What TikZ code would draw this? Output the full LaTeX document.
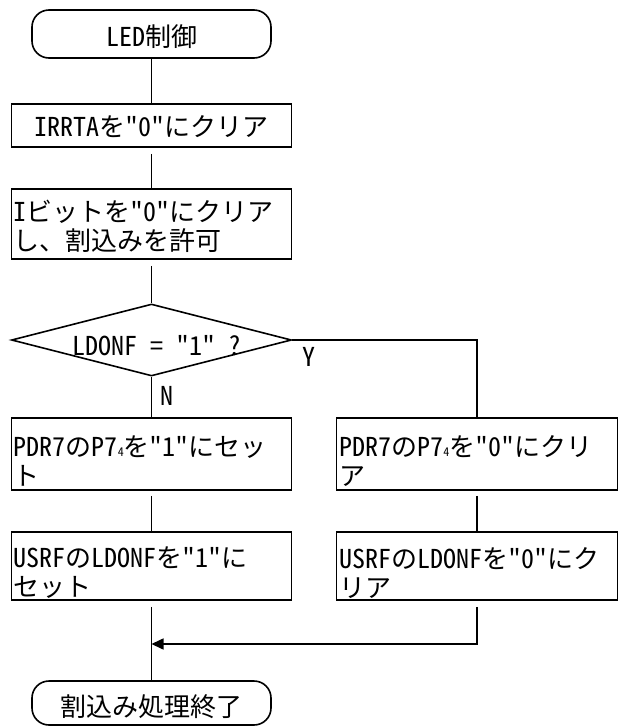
\documentclass[tikz,border=0pt]{standalone}
\usepackage{fontspec}
\setmainfont{Noto Sans CJK JP}
\newfontfamily\hwfont{Noto Sans CJK JP}[RawFeature=+hwid]
\newcommand\hlat[1]{{\hwfont #1}}
\newcommand\subfour{{\fontsize{12}{12}\selectfont\hwfont 4}}
\usetikzlibrary{shapes.geometric,arrows.meta}
\begin{document}
\begin{tikzpicture}[x=1pt,y=-1pt, line width=1.6pt,
  term/.style={draw, rectangle, rounded corners=17pt, minimum width=239pt, minimum height=48pt, inner sep=0pt},
  proc/.style={draw, rectangle, minimum width=280pt, inner sep=0pt},
  dec/.style={draw, diamond, aspect=3.9, minimum width=280pt, minimum height=72pt, inner sep=0pt},
  txt/.style={inner sep=0pt, font=\fontsize{26}{29}\selectfont, align=left},
  arr/.style={-{Triangle[length=12pt,width=11pt]}}
]
\useasboundingbox (0,0) rectangle (618,726);

\node[term] (t1) at (151.5,34) {};
\node[txt] (t1t) at (151.5,37) {\hlat{LED}制御};

\node[proc, minimum height=43pt] (b1) at (151.5,125.5) {};
\node[txt] (b1t) at (151.5,127) {\hlat{IRRTA}を\hlat{"0"}にクリア};

\node[proc, minimum height=70pt] (b2) at (151.5,224) {};
\node[txt, anchor=west] (b2t) at (13,226.5) {\hlat{I}ビットを\hlat{"0"}にクリア\\し、割込みを許可};

\node[dec] (d) at (151.5,340) {};
\node[txt] (dt) at (157,346) {\hlat{LDONF = "1" ?}};
\node[txt] (ylab) at (309,357) {\hlat{Y}};
\node[txt] (nlab) at (167,396) {\hlat{N}};

\node[proc, minimum height=72pt] (b3l) at (151.5,454) {};
\node[txt, anchor=west] (b3lt) at (13,461) {\hlat{PDR7}の\hlat{P7}\subfour を\hlat{"1"}にセッ\\ト};
\node[proc, minimum height=72pt, minimum width=281pt] (b3r) at (477,454) {};
\node[txt, anchor=west] (b3rt) at (338.5,461) {\hlat{PDR7}の\hlat{P7}\subfour を\hlat{"0"}にクリ\\ア};

\node[proc, minimum height=68pt] (b4l) at (151.5,566) {};
\node[txt, anchor=west] (b4lt) at (13,573) {\hlat{USRF}の\hlat{LDONF}を\hlat{"1"}に\\セット};
\node[proc, minimum height=68pt, minimum width=281pt] (b4r) at (477,566) {};
\node[txt, anchor=west] (b4rt) at (338.5,573) {\hlat{USRF}の\hlat{LDONF}を\hlat{"0"}にク\\リア};

\node[term, minimum height=44pt] (t2) at (151.5,703) {};
\node[txt] (t2t) at (151.5,707) {割込み処理終了};

\coordinate (m) at (151.5,644);

\draw (t1.south) -- (b1.north);
\draw[shorten <=6pt] (b1.south) -- (b2.north);
\draw[shorten <=6pt] (b2.south) -- (d.north);
\draw (d.south) -- (b3l.north);
\draw (d.east) -| (b3r.north);
\draw[shorten <=5pt] (b3l.south) -- (b4l.north);
\draw[shorten <=5pt] (b3r.south) -- (b4r.north);
\draw[shorten <=6pt] (b4l.south) -- (t2.north);
\draw[shorten <=6pt, arr] (b4r.south) |- (m);
\end{tikzpicture}
\end{document}
